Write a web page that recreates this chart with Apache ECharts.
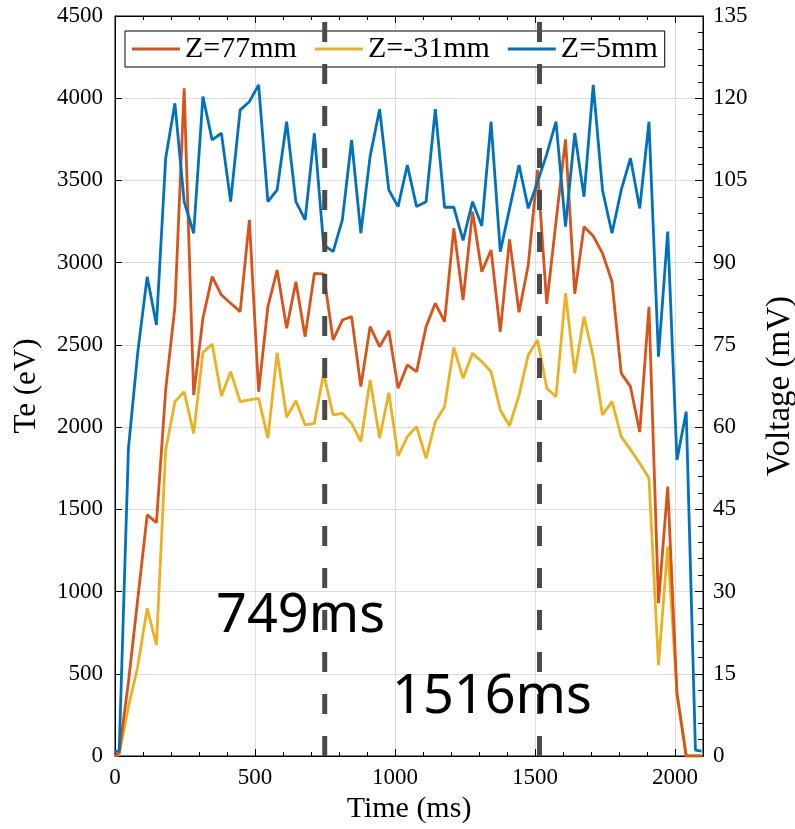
<!DOCTYPE html>
<html>
<head>
<meta charset="utf-8">
<script src="https://cdn.jsdelivr.net/npm/echarts@6/dist/echarts.min.js"></script>
<style>
  html, body { margin: 0; padding: 0; background: #fff; }
  #chart { width: 795px; height: 829px; }
</style>
</head>
<body>
<div id="chart"></div>
<script>
// Sample times (ms)
const timeMs = [0, 15, 48, 81, 115, 148, 181, 214, 247, 281, 314, 347, 380, 413, 447, 480,
  513, 546, 579, 613, 646, 679, 712, 745, 779, 812, 845, 878, 911, 945, 978, 1011,
  1044, 1077, 1111, 1144, 1177, 1210, 1243, 1277, 1310, 1343, 1376, 1409, 1443, 1476,
  1509, 1542, 1575, 1609, 1642, 1675, 1708, 1741, 1775, 1808, 1841, 1874, 1907, 1941,
  1974, 2007, 2040, 2073, 2095];

// Electron temperature (eV) at Z = 77 mm
const teZ77 = [0, 20, 450, 950, 1466, 1419, 2226, 2732, 4060, 2195, 2662, 2915, 2803, 2753, 2702, 3260,
  2215, 2732, 2955, 2601, 2884, 2550, 2935, 2931, 2530, 2651, 2672, 2246, 2611, 2489, 2586, 2236,
  2378, 2337, 2611, 2753, 2641, 3209, 2773, 3310, 2945, 3077, 2580, 3142, 2698, 2986,
  3564, 2749, 3250, 3750, 2810, 3219, 3162, 3057, 2884, 2327, 2246, 1970, 2732, 930,
  1638, 381, 0, 0, 0];

// Electron temperature (eV) at Z = -31 mm
const teZm31 = [0, 10, 300, 543, 898, 675, 1861, 2155, 2215, 1962, 2453, 2505, 2189, 2337, 2155, 2165,
  2175, 1932, 2453, 2060, 2161, 2013, 2023, 2327, 2074, 2084, 2023, 1911, 2286, 1932, 2209, 1824,
  1942, 2003, 1810, 2033, 2124, 2485, 2297, 2449, 2398, 2337, 2104, 2007, 2195, 2439,
  2530, 2236, 2185, 2814, 2327, 2672, 2428, 2074, 2155, 1942, 1863, 1780, 1689, 553,
  1273, 381, 0, 0, 0];

// Electron temperature (eV) at Z = 5 mm
const teZ5 = [30, 30, 1871, 2450, 2915, 2621, 3635, 3969, 3371, 3179, 4010, 3746, 3787, 3371, 3929, 3979,
  4081, 3371, 3442, 3857, 3371, 3260, 3787, 3108, 3067, 3260, 3746, 3179, 3645, 3933, 3442, 3341,
  3594, 3341, 3371, 3933, 3337, 3337, 3136, 3371, 3223, 3857, 3067, 3327, 3594, 3330,
  3490, 3660, 3857, 3219, 3787, 3401, 4081, 3442, 3179, 3442, 3635, 3330, 3857, 2428,
  3189, 1800, 2094, 36, 30];

// Marked instants (ms)
const markTimes = [749, 1516];
const markLabels = ['749ms', '1516ms'];

const seriesNames = ['Z=77mm', 'Z=-31mm', 'Z=5mm'];
const seriesColors = ['#D95319', '#EDB120', '#0072BD'];

const pair = (ys) => timeMs.map((t, i) => [t, ys[i]]);

const serif = '"Liberation Serif", "Times New Roman", serif';
const plain = (v) => String(v);
const tickFont = { fontFamily: serif, fontSize: 23, color: '#000', formatter: plain };

const chart = echarts.init(document.getElementById('chart'), null, { renderer: 'canvas' });

const lineSeries = (name, ys, color, z) => ({
  name, type: 'line', data: pair(ys), showSymbol: false, symbol: 'none',
  lineStyle: { color, width: 2.8 }, itemStyle: { color }, z, animation: false
});

const markSeries = markTimes.map((t, i) => ({
  name: 'mark' + i, type: 'line', data: [[t, 0], [t, 4500]], showSymbol: false, symbol: 'none',
  lineStyle: { color: '#4a4a4a', width: 5, type: [20, 22] }, z: 10, animation: false, silent: true
}));

chart.setOption({
  animation: false,
  backgroundColor: '#fff',
  grid: {
    left: 115, right: 92, top: 16, bottom: 73,
    outerBoundsMode: 'none', containLabel: false,
    show: true, borderColor: '#000', borderWidth: 1
  },
  legend: {
    data: seriesNames,
    left: 125, top: 31,
    orient: 'horizontal',
    icon: 'rect', itemWidth: 48, itemHeight: 3, itemGap: 18,
    padding: [3, 7],
    borderColor: '#000', borderWidth: 1, backgroundColor: '#fff',
    textStyle: { fontFamily: serif, fontSize: 30, color: '#000' }
  },
  xAxis: [{
    type: 'value', min: 0, max: 2100, interval: 500, position: 'bottom',
    name: 'Time (ms)', nameLocation: 'middle', nameGap: 34,
    nameTextStyle: { fontFamily: serif, fontSize: 30, color: '#000' },
    axisLine: { show: true, onZero: false, lineStyle: { color: '#000', width: 1 } },
    axisTick: { show: true, inside: true, length: 7, lineStyle: { color: '#000' } },
    minorTick: { show: true, splitNumber: 5, length: 4, lineStyle: { color: '#000' } },
    axisLabel: { ...tickFont, margin: 10, showMaxLabel: false },
    splitLine: { show: true, lineStyle: { color: '#dcdcdc', width: 1 } }
  }, {
    type: 'value', min: 0, max: 2100, interval: 500, position: 'top',
    axisLine: { show: true, onZero: false, lineStyle: { color: '#000', width: 1 } },
    axisTick: { show: true, inside: true, length: 7, lineStyle: { color: '#000' } },
    minorTick: { show: true, splitNumber: 5, length: 4, lineStyle: { color: '#000' } },
    axisLabel: { show: false },
    splitLine: { show: false }
  }],
  yAxis: [{
    type: 'value', min: 0, max: 4500, interval: 500, position: 'left',
    name: 'Te (eV)', nameLocation: 'middle', nameGap: 73,
    nameTextStyle: { fontFamily: serif, fontSize: 31, color: '#000' },
    axisLine: { show: true, onZero: false, lineStyle: { color: '#000', width: 1 } },
    axisTick: { show: true, inside: true, length: 7, lineStyle: { color: '#000' } },
    axisLabel: { ...tickFont, margin: 12 },
    splitLine: { show: true, lineStyle: { color: '#dcdcdc', width: 1 } }
  }, {
    type: 'value', min: 0, max: 135, interval: 15, position: 'right',
    name: 'Voltage (mV)', nameLocation: 'middle', nameGap: 61,
    nameTextStyle: { fontFamily: serif, fontSize: 33, color: '#000' },
    axisLine: { show: true, onZero: false, lineStyle: { color: '#000', width: 1 } },
    axisTick: { show: true, inside: true, length: 8, lineStyle: { color: '#000' } },
    minorTick: { show: true, splitNumber: 5, length: 5, lineStyle: { color: '#000' } },
    axisLabel: { ...tickFont, margin: 10 },
    splitLine: { show: false }
  }],
  series: [
    lineSeries(seriesNames[1], teZm31, seriesColors[1], 2),
    lineSeries(seriesNames[0], teZ77, seriesColors[0], 3),
    lineSeries(seriesNames[2], teZ5, seriesColors[2], 4),
    ...markSeries
  ],
  graphic: [
    { type: 'text', x: 216, y: 617, z: 20,
      style: { text: markLabels[0], font: '54px "Noto Sans"', fill: '#000', align: 'left', verticalAlign: 'middle' } },
    { type: 'text', x: 392, y: 698, z: 20,
      style: { text: markLabels[1], font: '54px "Noto Sans"', fill: '#000', align: 'left', verticalAlign: 'middle' } }
  ]
});
</script>
</body>
</html>
